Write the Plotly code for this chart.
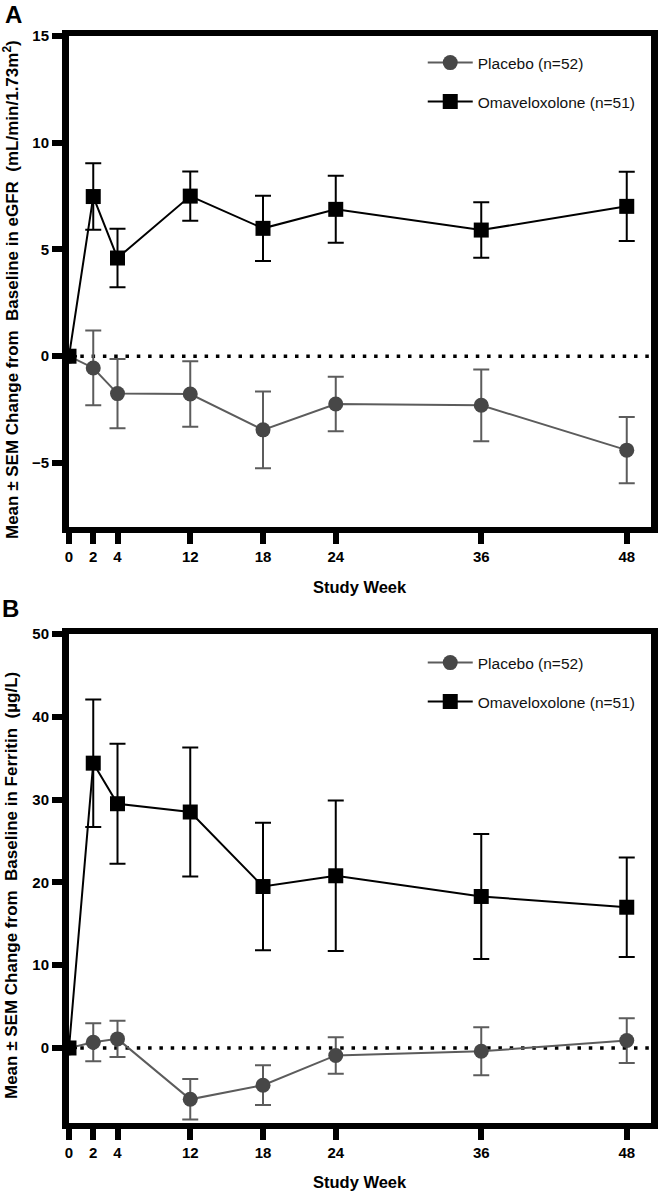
import plotly.graph_objects as go

# ---------------- data ----------------
weeks = [0, 2, 4, 12, 18, 24, 36, 48]
week_labels = ["0", "2", "4", "12", "18", "24", "36", "48"]

egfr_placebo = [0.0, -0.55, -1.75, -1.77, -3.45, -2.24, -2.30, -4.40]
egfr_placebo_sem = [0.0, 1.75, 1.62, 1.53, 1.80, 1.28, 1.68, 1.55]
egfr_omav = [0.0, 7.48, 4.60, 7.50, 5.99, 6.88, 5.91, 7.02]
egfr_omav_sem = [0.0, 1.56, 1.37, 1.15, 1.53, 1.57, 1.30, 1.62]

ferritin_placebo = [0.0, 0.7, 1.1, -6.2, -4.5, -0.9, -0.4, 0.9]
ferritin_placebo_sem = [0.0, 2.3, 2.2, 2.45, 2.4, 2.2, 2.9, 2.7]
ferritin_omav = [0.0, 34.4, 29.5, 28.5, 19.5, 20.8, 18.3, 17.0]
ferritin_omav_sem = [0.0, 7.7, 7.25, 7.8, 7.7, 9.1, 7.55, 6.0]

placebo_name = "Placebo (n=52)"
omav_name = "Omaveloxolone (n=51)"


# The original x axis places weeks 0, 2 and 4 two units right of their value
def week_axis(w):
    return w + 2 if w <= 4 else w


xpos = [week_axis(w) for w in weeks]

FONT = "Liberation Sans, Arial, sans-serif"
GREY_LINE = "#5c5c5c"
GREY_FILL = "#474747"

fig = go.Figure()


def add_panel(yp, yp_err, yo, yo_err, xa, ya, leg_p, leg_o):
    fig.add_trace(go.Scatter(
        x=xpos, y=yp, name=placebo_name, mode="lines+markers",
        xaxis=xa, yaxis=ya, legend=leg_p, showlegend=True,
        line=dict(color=GREY_LINE, width=2),
        marker=dict(symbol="circle", size=15, color=GREY_FILL),
        error_y=dict(type="data", array=yp_err, visible=True,
                     color=GREY_LINE, thickness=2, width=8),
    ))
    fig.add_trace(go.Scatter(
        x=xpos, y=yo, name=omav_name, mode="lines+markers",
        xaxis=xa, yaxis=ya, legend=leg_o, showlegend=True,
        line=dict(color="black", width=2),
        marker=dict(symbol="square", size=15, color="black"),
        error_y=dict(type="data", array=yo_err, visible=True,
                     color="black", thickness=2, width=8),
    ))


add_panel(egfr_placebo, egfr_placebo_sem, egfr_omav, egfr_omav_sem,
          "x", "y", "legend", "legend2")
add_panel(ferritin_placebo, ferritin_placebo_sem, ferritin_omav, ferritin_omav_sem,
          "x2", "y2", "legend3", "legend4")

W, H = 668, 1194
ML, MR, MT, MB = 69, 10, 36, 71
PH = H - MT - MB
PW = W - ML - MR


def py(pix):
    return (H - MB - pix) / PH


def px(pix):
    return (pix - ML) / PW


domA = [py(527), 1.0]
domB = [0.0, py(634)]

xcommon = dict(
    range=[2, 50], tickvals=xpos, ticktext=week_labels,
    showline=True, linewidth=6, linecolor="black", mirror=True,
    ticks="outside", ticklen=11, tickwidth=6, tickcolor="black",
    showgrid=False, zeroline=False,
    tickfont=dict(family=FONT, size=15, color="black", weight="bold"),
)
ycommon = dict(
    showline=True, linewidth=7, linecolor="black", mirror=True,
    ticks="outside", ticklen=10, tickwidth=6, tickcolor="black",
    showgrid=False, zeroline=False,
    tickfont=dict(family=FONT, size=15, color="black", weight="bold"),
)

legend_common = dict(
    xref="paper", yref="paper", xanchor="left", yanchor="middle",
    bgcolor="rgba(0,0,0,0)", borderwidth=0, itemwidth=45,
    font=dict(family=FONT, size=15.5, color="#111111"),
)

LX = px(427)
fig.update_layout(
    width=W, height=H,
    showlegend=True,
    margin=dict(l=ML, r=MR, t=MT, b=MB),
    paper_bgcolor="white", plot_bgcolor="white",
    font=dict(family=FONT, color="black"),
    xaxis=dict(domain=[0, 1], anchor="y", **xcommon),
    yaxis=dict(domain=domA, anchor="x", range=[-8, 15],
               tickvals=[-5, 0, 5, 10, 15], **ycommon),
    xaxis2=dict(domain=[0, 1], anchor="y2", **xcommon),
    yaxis2=dict(domain=domB, anchor="x2", range=[-9.06, 50],
                tickvals=[0, 10, 20, 30, 40, 50], **ycommon),
    legend=dict(x=LX, y=py(63), **legend_common),
    legend2=dict(x=LX, y=py(102), **legend_common),
    legend3=dict(x=LX, y=py(663), **legend_common),
    legend4=dict(x=LX, y=py(702), **legend_common),
)

# dotted zero lines
for xr, yr in [("x domain", "y"), ("x2 domain", "y2")]:
    fig.add_shape(type="line", xref=xr, yref=yr, x0=0, x1=1, y0=0, y1=0,
                  line=dict(color="black", width=3.5, dash="3.5px,7.8px"),
                  layer="below")

ann = []
# y-axis titles
ann.append(dict(text="<b>Mean ± SEM Change from\u00a0\u00a0Baseline in eGFR\u00a0\u00a0(mL/min/1.73m<sup>2</sup>)</b>",
                xref="paper", yref="paper", x=0, y=py(290), xshift=11 - ML,
                xanchor="center", yanchor="middle", textangle=-90, showarrow=False,
                font=dict(family=FONT, size=17, color="black")))
ann.append(dict(text="<b>Mean ± SEM Change from\u00a0\u00a0Baseline in Ferritin\u00a0\u00a0(µg/L)</b>",
                xref="paper", yref="paper", x=0, y=py(886), xshift=11 - ML,
                xanchor="center", yanchor="middle", textangle=-90, showarrow=False,
                font=dict(family=FONT, size=17, color="black")))
# x-axis titles
for yp_ in [587, 1182]:
    ann.append(dict(text="<b>Study Week</b>", xref="paper", yref="paper",
                    x=0.5, y=py(yp_), xanchor="center", yanchor="middle",
                    showarrow=False, font=dict(family=FONT, size=16.5, color="black")))
# panel letters
ann.append(dict(text="<b>A</b>", xref="paper", yref="paper", x=px(13), y=py(14),
                xanchor="center", yanchor="middle", showarrow=False,
                font=dict(family=FONT, size=24, color="black")))
ann.append(dict(text="<b>B</b>", xref="paper", yref="paper", x=px(10), y=py(608),
                xanchor="center", yanchor="middle", showarrow=False,
                font=dict(family=FONT, size=24, color="black")))
fig.update_layout(annotations=ann)

fig.write_html("out.html",
               config={"displayModeBar": False},
               post_script="document.body.style.margin='0';document.body.style.overflow='hidden';")
